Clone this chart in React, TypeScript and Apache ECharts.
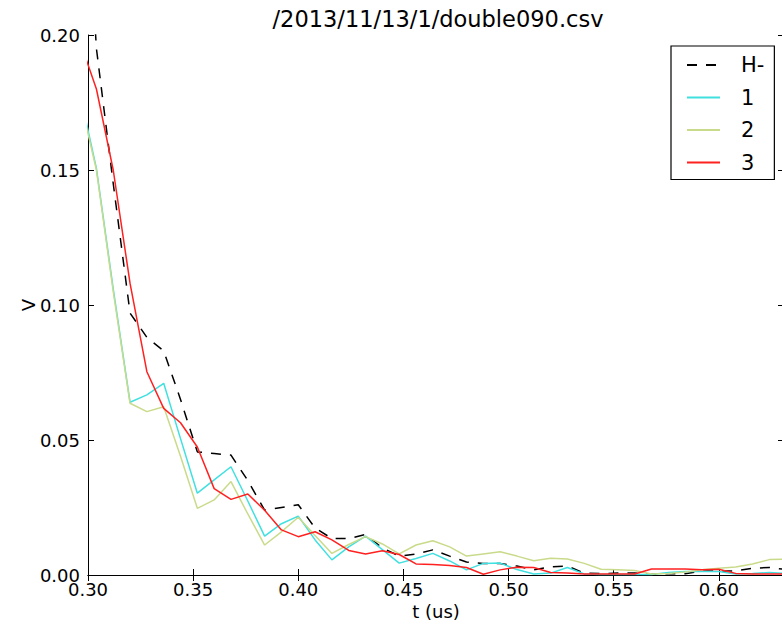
import React, { useEffect, useRef } from "react";
import * as echarts from "echarts";

const times = [
  0.296, 0.304, 0.312, 0.32, 0.328, 0.336, 0.344, 0.352, 0.36, 0.368, 0.376,
  0.384, 0.392, 0.4, 0.408, 0.416, 0.424, 0.432, 0.44, 0.448, 0.456, 0.464,
  0.472, 0.48, 0.488, 0.496, 0.504, 0.512, 0.52, 0.528, 0.536, 0.544, 0.552,
  0.56, 0.568, 0.576, 0.584, 0.592, 0.6, 0.608, 0.616, 0.624, 0.632, 0.64,
];

const hMinus = [
  0.3, 0.195, 0.145, 0.097, 0.088, 0.083, 0.065, 0.0456, 0.045, 0.0444, 0.035,
  0.024, 0.025, 0.026, 0.0174, 0.0135, 0.0135, 0.015, 0.01, 0.007, 0.0078,
  0.0093, 0.007, 0.0048, 0.0043, 0.0043, 0.0033, 0.0019, 0.003, 0.0033,
  0.0007, 0.0005, 0.0007, 0.0007, 0.0003, 0.0005, 0.0005, 0.0015, 0.0015,
  0.0015, 0.0025, 0.0028, 0.002, 0.002,
];

const ch1 = [
  0.179, 0.1506, 0.106, 0.064, 0.0667, 0.071, 0.0505, 0.0303, 0.0352, 0.0401,
  0.0274, 0.0144, 0.019, 0.0218, 0.013, 0.0056, 0.0104, 0.0144, 0.0094,
  0.0044, 0.0061, 0.008, 0.0052, 0.0019, 0.0043, 0.0044, 0.002, 0.0004,
  0.0007, 0.0028, 0.0004, 0.0002, 0.0002, 0.0002, 0.0002, 0.0009, 0.0013,
  0.0013, 0.0013, 0.0004, 0.0006, 0.0009, 0.0006, 0.0006,
];

const ch2 = [
  0.177, 0.15, 0.105, 0.0636, 0.0605, 0.0623, 0.044, 0.0247, 0.0278, 0.0346,
  0.0226, 0.0111, 0.016, 0.0214, 0.0146, 0.008, 0.0113, 0.0142, 0.0115,
  0.0078, 0.0111, 0.0127, 0.0104, 0.007, 0.0078, 0.0086, 0.007, 0.0053,
  0.0062, 0.0059, 0.0043, 0.0021, 0.0019, 0.0017, 0.0004, 0.0006, 0.0011,
  0.0019, 0.0025, 0.003, 0.0041, 0.0057, 0.0059, 0.006,
];

const ch3 = [
  0.198, 0.18, 0.15, 0.108, 0.0753, 0.0617, 0.0564, 0.0474, 0.032, 0.028,
  0.03, 0.024, 0.0167, 0.0142, 0.016, 0.013, 0.0091, 0.0078, 0.009, 0.0076,
  0.0041, 0.0039, 0.0035, 0.0028, 0.0003, 0.0019, 0.0029, 0.0028, 0.0009,
  0.0007, 0.0004, 0.0004, 0.0004, 0.0004, 0.0022, 0.0022, 0.0022, 0.0019,
  0.0021, 0.0006, 0.0004, 0.0004, 0.0004, 0.0004,
];

const seriesNames = ["H-", "1", "2", "3"];
const seriesValues = [hMinus, ch1, ch2, ch3];
const seriesColors = ["#000000", "#40e0e0", "#c9db8a", "#ff2020"];

const FONT = "DejaVu Sans";

export default function App() {
  const ref = useRef<HTMLDivElement>(null);

  useEffect(() => {
    if (!ref.current) return;
    const chart = echarts.init(ref.current, null, { renderer: "svg" });

    const xCommon = {
      type: "value" as const,
      min: 0.3,
      max: 0.631,
      interval: 0.05,
      splitLine: { show: false },
      axisLine: { show: true, lineStyle: { color: "#000", width: 1 } },
      axisTick: { show: true, inside: true, length: 6, lineStyle: { color: "#000", width: 1 } },
    };
    const yCommon = {
      type: "value" as const,
      min: 0,
      max: 0.2,
      interval: 0.05,
      splitLine: { show: false },
      axisLine: { show: true, lineStyle: { color: "#000", width: 1 } },
      axisTick: { show: true, inside: true, length: 6, lineStyle: { color: "#000", width: 1 } },
    };

    chart.setOption({
      animation: false,
      backgroundColor: "#fff",
      title: {
        text: "/2013/11/13/1/double090.csv",
        left: 433,
        top: 2,
        textAlign: "center",
        textStyle: { fontFamily: FONT, fontSize: 22.5, fontWeight: "normal", color: "#000" },
      },
      grid: {
        left: 88,
        top: 35,
        right: -2,
        bottom: 50,
        containLabel: false,
        outerBoundsMode: "none",
      },
      legend: {
        data: seriesNames,
        orient: "vertical",
        left: 671,
        top: 46,
        itemWidth: 33,
        itemHeight: 14,
        itemGap: 10.5,
        padding: [8, 10, 6, 15],
        borderColor: "#000",
        borderWidth: 1.2,
        backgroundColor: "#fff",
        selectedMode: false,
        itemStyle: { opacity: 0, color: "rgba(0,0,0,0)", borderWidth: 0 },
        textStyle: {
          fontFamily: FONT,
          fontSize: 21,
          color: "#000",
          lineHeight: 22,
          padding: [0, 0, 0, 16],
        },
      },
      xAxis: [
        {
          ...xCommon,
          position: "bottom",
          name: "t (us)",
          nameLocation: "middle",
          nameGap: 27,
          nameMoveOverlap: false,
          nameTextStyle: { fontFamily: FONT, fontSize: 18, color: "#000" },
          axisLabel: {
            show: true,
            margin: 5,
            fontFamily: FONT,
            fontSize: 18,
            color: "#000",
            showMaxLabel: false,
            formatter: (v: number) => v.toFixed(2),
          },
        },
        {
          ...xCommon,
          position: "top",
          axisLabel: { show: false },
        },
      ],
      yAxis: [
        {
          ...yCommon,
          position: "left",
          name: "V",
          nameLocation: "middle",
          nameGap: 51,
          nameMoveOverlap: false,
          nameTextStyle: { fontFamily: FONT, fontSize: 18, color: "#000" },
          axisLabel: {
            show: true,
            margin: 8,
            fontFamily: FONT,
            fontSize: 18,
            color: "#000",
            formatter: (v: number) => v.toFixed(2),
          },
        },
        {
          ...yCommon,
          position: "right",
          axisLabel: { show: false },
        },
      ],
      series: seriesNames.map((name, i) => ({
        name,
        type: "line",
        xAxisIndex: 0,
        yAxisIndex: 0,
        showSymbol: false,
        symbol: "none",
        clip: true,
        color: seriesColors[i],
        lineStyle: {
          color: seriesColors[i],
          width: 1.5,
          type: i === 0 ? [10, 9] : "solid",
        },
        data: times.map((t, k) => [t, seriesValues[i][k]]),
      })),
    });

    return () => chart.dispose();
  }, []);

  return (
    <div
      ref={ref}
      style={{ position: "fixed", left: 0, top: 0, width: 782, height: 625 }}
    />
  );
}
